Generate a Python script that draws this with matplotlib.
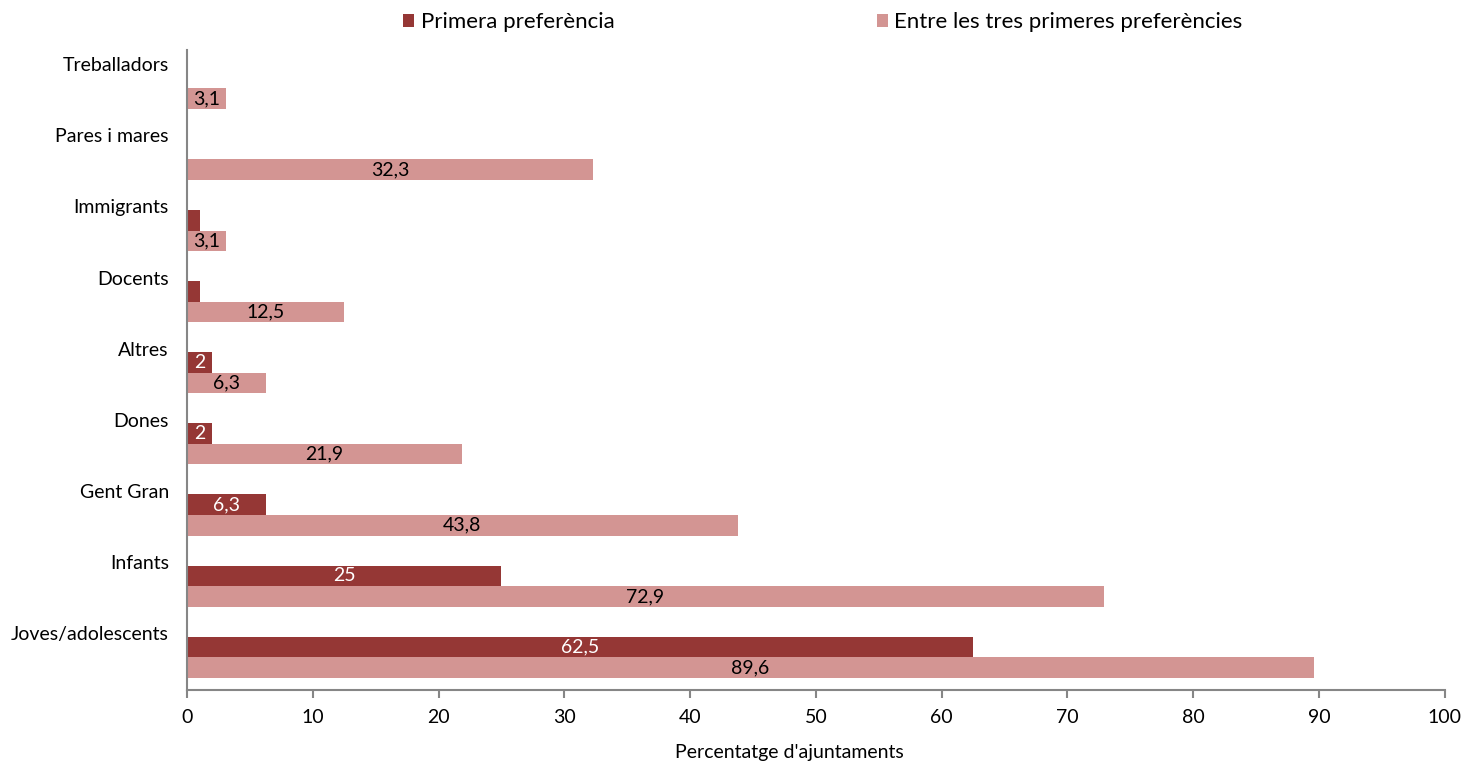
import matplotlib
matplotlib.use("Agg")
import matplotlib.pyplot as plt
import numpy as np

# data (bottom to top)
categories = ["Joves/adolescents", "Infants", "Gent Gran", "Dones", "Altres",
              "Docents", "Immigrants", "Pares i mares", "Treballadors"]
primera = [62.5, 25, 6.3, 2, 2, 1, 1, 0, 0]
primera_labels = ["62,5", "25", "6,3", "2", "2", "", "", "", ""]
tres = [89.6, 72.9, 43.8, 21.9, 6.3, 12.5, 3.1, 32.3, 3.1]
tres_labels = ["89,6", "72,9", "43,8", "21,9", "6,3", "12,5", "3,1", "32,3", "3,1"]
xticks = [0, 10, 20, 30, 40, 50, 60, 70, 80, 90, 100]

dark = "#953735"
light = "#D39593"
axis_gray = "#868686"
fs = 14

plt.rcParams['font.family'] = ['Lato', 'DejaVu Sans']

fig = plt.figure(figsize=(14.64, 7.63), dpi=100)
ax = fig.add_axes([0.1277, 0.0957, 0.8592, 0.8388])

y = np.arange(len(categories))
h = 0.29
b1 = ax.barh(y + 0.605, primera, height=h, color=dark, label="Primera preferència")
b2 = ax.barh(y + 0.316, tres, height=h, color=light, label="Entre les tres primeres preferències")

for rect, lab in zip(b1, primera_labels):
    if lab:
        ax.text(rect.get_x() + rect.get_width() / 2, rect.get_y() + rect.get_height() / 2,
                lab, ha="center", va="center", color="white", fontsize=fs)
for rect, lab in zip(b2, tres_labels):
    ax.text(rect.get_x() + rect.get_width() / 2, rect.get_y() + rect.get_height() / 2,
            lab, ha="center", va="center", color="black", fontsize=fs)

ax.set_xlim(0, 100)
ax.set_ylim(0, len(categories))
ax.set_xticks(xticks)
ax.set_xticklabels([str(t) for t in xticks], fontsize=fs)
ax.set_yticks(y + 0.8)
ax.set_yticklabels(categories, fontsize=fs)
ax.tick_params(axis="y", length=0, pad=13)
ax.tick_params(axis="x", length=6, color=axis_gray, width=1.5, pad=8)

for side in ["top", "right"]:
    ax.spines[side].set_visible(False)
for side in ["left", "bottom"]:
    ax.spines[side].set_color(axis_gray)
    ax.spines[side].set_linewidth(1.5)

ax.set_xlabel("Percentatge d'ajuntaments", fontsize=fs)
ax.xaxis.set_label_coords(0.479, -0.085)

fig.legend(handles=[b1, b2], loc="upper center", bbox_to_anchor=(0.562, 1.01),
           ncol=2, frameon=False, fontsize=16, handlelength=0.5, handleheight=0.5,
           handletextpad=0.3, columnspacing=11.8)

fig.savefig("out.png", dpi=100)
